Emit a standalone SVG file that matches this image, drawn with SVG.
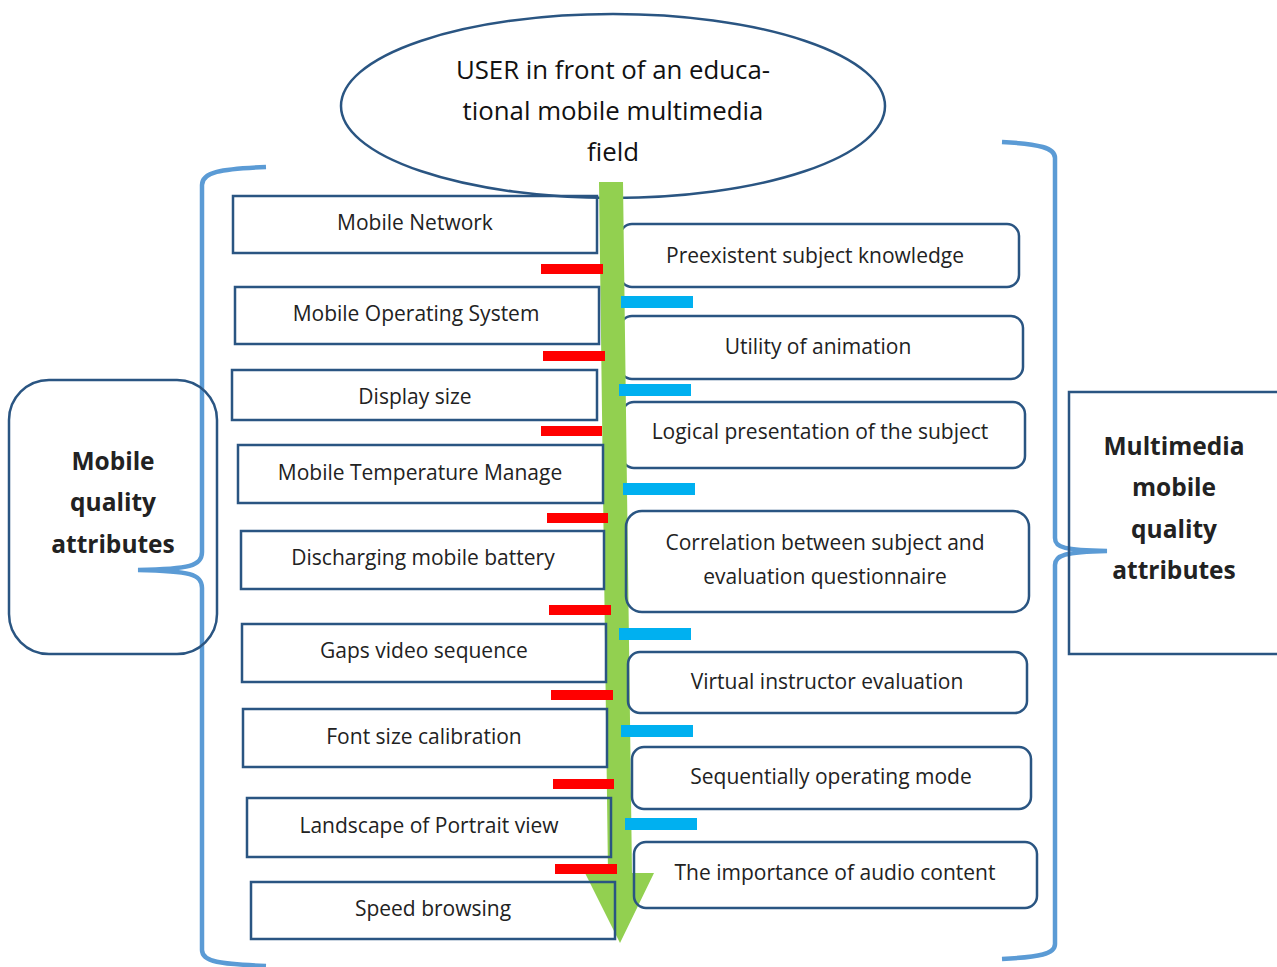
<svg xmlns="http://www.w3.org/2000/svg" width="1277" height="967" viewBox="0 0 1277 967">
<style>
.box{fill:none;stroke:#2A5582;stroke-width:2.5}
.t{font-family:"Open Sans","Liberation Sans",sans-serif;font-size:21px;fill:#222;text-anchor:middle}
.big{font-family:"Open Sans","Liberation Sans",sans-serif;font-size:25.8px;fill:#111;text-anchor:middle}
.bold{font-family:"Open Sans","Liberation Sans",sans-serif;font-size:24.5px;font-weight:bold;fill:#222;text-anchor:middle}
.brace{fill:none;stroke:#5B9BD5;stroke-width:4.5;stroke-linecap:butt}
.red{fill:#FF0000}
.blue{fill:#00B0F0}
</style>
<rect width="1277" height="967" fill="#fff"/>
<g id="left-brace"><path class="brace" d="M266,167 C220,169 202,172 202,185 L202,552 C202,566 190,569 138,570 C190,571 202,574 202,588 L202,950 C202,962 220,964 266,966"/></g>
<g id="right-brace"><path class="brace" d="M1002,142 C1040,144 1055,148 1055,158 L1055,538 C1055,548 1065,550 1107,551 C1065,552 1055,555 1055,565 L1055,944 C1055,954 1040,957 1002,959"/></g>
<g id="user"><ellipse cx="613" cy="106" rx="272" ry="92" fill="#fff" stroke="#2A5582" stroke-width="2.5"/>
<text class="big" x="613" y="79">USER in front of an educa-</text>
<text class="big" x="613" y="120">tional mobile multimedia</text>
<text class="big" x="613" y="161">field</text></g>
<g id="mobile-quality"><rect class="box" x="9" y="380" width="208" height="274" rx="40"/>
<text class="bold" x="113" y="470">Mobile</text>
<text class="bold" x="113" y="511">quality</text>
<text class="bold" x="113" y="553">attributes</text></g>
<g id="multimedia-quality"><rect class="box" x="1069" y="392" width="220" height="262"/>
<text class="bold" x="1174" y="455">Multimedia</text>
<text class="bold" x="1174" y="496">mobile</text>
<text class="bold" x="1174" y="538">quality</text>
<text class="bold" x="1174" y="579">attributes</text></g>
<g id="r1"><rect class="box" x="620" y="224" width="399" height="63" rx="12"/><text class="t" x="815" y="263">Preexistent subject knowledge</text></g>
<g id="r2"><rect class="box" x="620" y="316" width="403" height="63" rx="12"/><text class="t" x="818" y="354">Utility of animation</text></g>
<g id="r3"><rect class="box" x="622" y="402" width="403" height="66" rx="12"/><text class="t" x="820" y="439">Logical presentation of the subject</text></g>
<g id="connectors">
<polygon fill="#92D050" points="599,182 623,182 632,873 654,873 620,943 585,873 608,873"/>
</g>
<g id="r4"><rect class="box" x="626" y="511" width="403" height="101" rx="16"/><text class="t" x="825" y="550">Correlation between subject and</text><text class="t" x="825" y="584">evaluation questionnaire</text></g>
<g id="r5"><rect class="box" x="628" y="652" width="399" height="61" rx="12"/><text class="t" x="827" y="689">Virtual instructor evaluation</text></g>
<g id="r6"><rect class="box" x="632" y="747" width="399" height="62" rx="12"/><text class="t" x="831" y="784">Sequentially operating mode</text></g>
<g id="r7"><rect class="box" x="634" y="842" width="403" height="66" rx="12"/><text class="t" x="835" y="880">The importance of audio content</text></g>
<g id="l1"><rect class="box" x="233" y="196" width="364" height="57"/><text class="t" x="415" y="230">Mobile Network</text></g>
<g id="l2"><rect class="box" x="235" y="287" width="364" height="57"/><text class="t" x="416" y="321">Mobile Operating System</text></g>
<g id="l3"><rect class="box" x="232" y="370" width="365" height="50"/><text class="t" x="415" y="404">Display size</text></g>
<g id="l4"><rect class="box" x="238" y="445" width="365" height="58"/><text class="t" x="420" y="480">Mobile Temperature Manage</text></g>
<g id="l5"><rect class="box" x="241" y="531" width="363" height="58"/><text class="t" x="423" y="565">Discharging mobile battery</text></g>
<g id="l6"><rect class="box" x="242" y="624" width="364" height="58"/><text class="t" x="424" y="658">Gaps video sequence</text></g>
<g id="l7"><rect class="box" x="243" y="709" width="364" height="58"/><text class="t" x="424" y="744">Font size calibration</text></g>
<g id="l8"><rect class="box" x="247" y="798" width="364" height="59"/><text class="t" x="429" y="833">Landscape of Portrait view</text></g>
<g id="l9"><rect class="box" x="251" y="882" width="364" height="57"/><text class="t" x="433" y="916">Speed browsing</text></g>
<g id="bars">
<rect class="red" x="541" y="264" width="62" height="10"/>
<rect class="red" x="543" y="351" width="62" height="10"/>
<rect class="red" x="541" y="426" width="61" height="10"/>
<rect class="red" x="547" y="513" width="61" height="10"/>
<rect class="red" x="549" y="605" width="62" height="10"/>
<rect class="red" x="551" y="690" width="62" height="10"/>
<rect class="red" x="553" y="779" width="61" height="10"/>
<rect class="red" x="555" y="864" width="62" height="10"/>
<rect class="blue" x="621" y="296" width="72" height="12"/>
<rect class="blue" x="619" y="384" width="72" height="12"/>
<rect class="blue" x="623" y="483" width="72" height="12"/>
<rect class="blue" x="619" y="628" width="72" height="12"/>
<rect class="blue" x="621" y="725" width="72" height="12"/>
<rect class="blue" x="625" y="818" width="72" height="12"/>
</g>
</svg>
